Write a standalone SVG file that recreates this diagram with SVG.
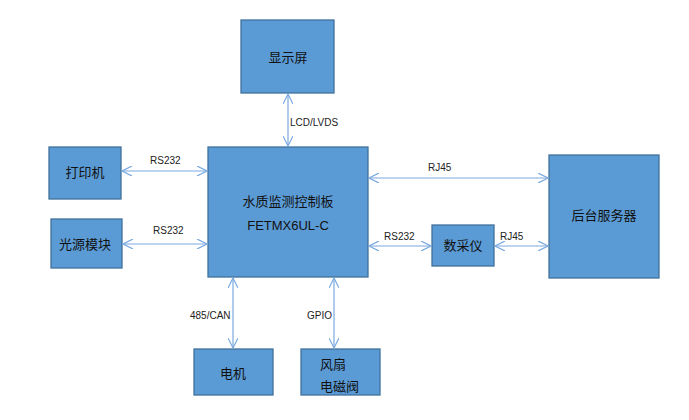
<svg xmlns="http://www.w3.org/2000/svg" width="689" height="420" viewBox="0 0 689 420">
<style>
.b{fill:#5b9bd5;stroke:#41719c;stroke-width:1.3}
.t{font-family:"Liberation Sans","Noto Sans CJK SC",sans-serif;font-size:13px;fill:#111}
.l{font-family:"Liberation Sans",sans-serif;font-size:10px;fill:#222}
.c line{stroke:#7aaae0;stroke-width:1.2;marker-start:url(#a);marker-end:url(#a)}
</style>
<defs><marker id="a" viewBox="0 0 10 10" refX="10" refY="5" markerWidth="10" markerHeight="10" orient="auto-start-reverse" markerUnits="userSpaceOnUse"><path d="M0,0L10,5L0,10" fill="none" stroke="#7aaae0" stroke-width="1.2"/></marker></defs>
<rect width="689" height="420" fill="#fff"/>
<g class="c">
<line x1="288" y1="94" x2="288" y2="146"/>
<line x1="122" y1="171" x2="207" y2="171"/>
<line x1="123" y1="244" x2="207" y2="244"/>
<line x1="369" y1="178" x2="548" y2="178"/>
<line x1="369" y1="246" x2="431" y2="246"/>
<line x1="495" y1="246" x2="548" y2="246"/>
<line x1="233" y1="278" x2="233" y2="348"/>
<line x1="334" y1="278" x2="334" y2="348"/>
</g>
<g class="l">
<text x="290" y="126">LCD/LVDS</text>
<text x="150" y="164">RS232</text>
<text x="153" y="234">RS232</text>
<text x="428" y="171">RJ45</text>
<text x="384" y="240">RS232</text>
<text x="500" y="240">RJ45</text>
<text x="190" y="319">485/CAN</text>
<text x="307" y="319">GPIO</text>
</g>
<g id="display"><rect class="b" x="241" y="20" width="93" height="73"/><text class="t" x="288" y="62" text-anchor="middle">显示屏</text></g>
<g id="printer"><rect class="b" x="49" y="147" width="72" height="52"/><text class="t" x="85" y="177" text-anchor="middle">打印机</text></g>
<g id="light"><rect class="b" x="51" y="219" width="71" height="49"/><text class="t" x="85" y="249" text-anchor="middle">光源模块</text></g>
<g id="main"><rect class="b" x="208" y="147" width="160" height="130"/><text class="t" x="288" y="206" text-anchor="middle" font-size="16">水质监测控制板</text><text class="t" x="288" y="230" text-anchor="middle" font-size="14">FETMX6UL-C</text></g>
<g id="daq"><rect class="b" x="432" y="225" width="62" height="41"/><text class="t" x="463" y="250" text-anchor="middle">数采仪</text></g>
<g id="server"><rect class="b" x="549" y="155" width="110" height="123"/><text class="t" x="604" y="220" text-anchor="middle">后台服务器</text></g>
<g id="motor"><rect class="b" x="194" y="349" width="79" height="46"/><text class="t" x="233" y="378" text-anchor="middle">电机</text></g>
<g id="fan"><rect class="b" x="301" y="349" width="79" height="46"/><text class="t" x="320" y="369">风扇</text><text class="t" x="320" y="391">电磁阀</text></g>
</svg>
